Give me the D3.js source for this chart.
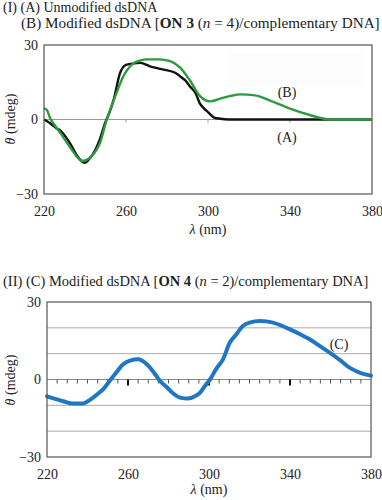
<!DOCTYPE html>
<html>
<head>
<meta charset="utf-8">
<script src="https://cdn.jsdelivr.net/npm/d3@7"></script>
<style>
  body { margin: 0; background: #fff; }
  svg text { font-family: "Liberation Serif", "DejaVu Serif", serif !important; fill: #222; }
</style>
</head>
<body>
<div id="chart"></div>
<script>
// CD spectra (wavelength nm, theta mdeg)
var curveA = [
  [220, 0], [223, -1.5], [226, -3.5], [228, -4.5], [231, -7.5], [233, -10], [236, -14.5],
  [238, -16.5], [240, -17.4], [242, -16], [245, -12.3], [247, -8.5], [250, -1], [252, 3],
  [254, 8], [257, 18.5], [260, 22], [263, 22.5], [267, 22.8], [272, 21.3], [276, 20.5],
  [279, 20], [284, 18.8], [287, 17], [289, 15.7], [291, 13.5], [294, 10.5], [296, 6.5],
  [298, 4.5], [300, 3], [303, 0.8], [306, 0.3], [310, 0], [330, 0], [350, 0], [380, 0]
];
var curveB = [
  [220, 4.5], [221.3, 4], [223, 0.5], [225, -2], [228, -5.5], [233, -11.5], [236, -15],
  [238.5, -16.7], [240, -16.5], [242.4, -15.4], [245, -13], [247.3, -9.5], [250.6, 0],
  [254.6, 9], [258.5, 17], [263.4, 22.5], [266.8, 23.7], [270, 24.2], [276, 24.2],
  [281.5, 23.5], [286.3, 21], [291, 16], [296, 9.5], [301, 7.3], [306, 8.4], [311, 9.5],
  [316, 10.1], [323, 9.7], [330, 7.7], [340, 4.4], [350, 1.7], [355, 0.6], [360, 0], [380, 0]
];
var curveC = [
  [220, -6.5], [224, -7.5], [228, -8.4], [232.8, -9.3], [237.8, -9.3], [241, -8],
  [244.7, -5.8], [248, -3.5], [251, -0.5], [254, 2.5], [257.5, 5.8], [261, 7.3], [265, 7.8],
  [269.4, 5.8], [272.5, 3], [275.8, -0.6], [279.3, -3.1], [282.5, -5.5], [285.7, -7],
  [289.6, -7.4], [293, -6.5], [295.6, -5.1], [298, -2.5], [300.5, 0], [303.5, 4], [306.9, 7.8],
  [310.3, 14.3], [313.5, 17.5], [316.7, 20.7], [320, 22], [325.2, 22.6], [331.6, 22],
  [336, 20.8], [340, 19.4], [345, 17.5], [349.9, 15.5], [355, 12.8], [359.8, 10.3],
  [365, 7.3], [369.6, 4.5], [375, 2.5], [380, 1.5]
];
var xTicks = [220, 260, 300, 340, 380];
var yTicks = [-30, 0, 30];
var gridII = [20, 10, -10, -20];

var svg = d3.select('#chart').append('svg')
  .attr('width', 382)
  .attr('height', 500);

// panel I scales
var x1 = d3.scaleLinear().domain([220, 380]).range([44, 372]);
var y1 = d3.scaleLinear().domain([-30, 30]).range([194, 45]);
// panel II scales
var x2 = d3.scaleLinear().domain([220, 380]).range([47, 371]);
var y2 = d3.scaleLinear().domain([-30, 30]).range([457, 302]);

function frame(x, y) {
  svg.append('rect')
    .attr('x', x(220)).attr('y', y(30))
    .attr('width', x(380) - x(220)).attr('height', y(-30) - y(30))
    .attr('fill', 'none').attr('stroke', '#555').attr('stroke-width', 1.2);
}

function axes(x, y, labelY, xLabY) {
  var bottom = svg.append('g')
    .attr('transform', `translate(0, ${y(-30)})`)
    .call(d3.axisBottom(x).tickValues(xTicks).tickSize(0).tickPadding(12));
  bottom.select('.domain').remove();
  bottom.attr('font-family', null).attr('font-size', null);
  bottom.selectAll('text').style('font-size', '14px').attr('fill', '#222');

  var left = svg.append('g')
    .attr('transform', `translate(${x(220)}, 0)`)
    .call(d3.axisLeft(y).tickValues(yTicks).tickSize(0).tickPadding(6)
      .tickFormat(d => d < 0 ? '\u2212' + Math.abs(d) : d));
  left.select('.domain').remove();
  left.attr('font-family', null).attr('font-size', null);
  left.selectAll('text').style('font-size', '14px').attr('fill', '#222');

  var yl = svg.append('text')
    .attr('transform', `translate(15, ${labelY}) rotate(-90)`)
    .attr('text-anchor', 'middle')
    .style('font-size', '14px');
  yl.append('tspan').attr('font-style', 'italic').text('\u03b8');
  yl.append('tspan').text(' (mdeg)');

  var xl = svg.append('text')
    .attr('x', (x(220) + x(380)) / 2)
    .attr('y', xLabY)
    .attr('text-anchor', 'middle')
    .style('font-size', '14px');
  xl.append('tspan').attr('font-style', 'italic').text('\u03bb');
  xl.append('tspan').text(' (nm)');
}

function title(x, y, parts, size) {
  var t = svg.append('text').attr('x', x).attr('y', y).style('font-size', size);
  parts.forEach(function(p) {
    var s = t.append('tspan').text(p[0]);
    if (p[1] === 'b') s.attr('font-weight', 'bold');
    if (p[1] === 'i') s.attr('font-style', 'italic');
  });
}

// ---- Panel I ----
title(3, 12, [['(I) (A) Unmodified dsDNA']], '14px');
title(21, 28, [['(B) Modified dsDNA ['], ['ON 3', 'b'], [' ('], ['n', 'i'], [' = 4)/complementary DNA]']], '15.2px');

svg.append('rect')
  .attr('x', 230).attr('y', 53).attr('width', 132).attr('height', 32)
  .attr('fill', '#fcfcfc');

svg.append('line')
  .attr('x1', x1(220)).attr('x2', x1(380))
  .attr('y1', y1(0)).attr('y2', y1(0))
  .attr('stroke', '#999').attr('stroke-width', 1);
svg.selectAll('.tickI').data([260, 300, 340]).enter().append('line')
  .attr('x1', d => x1(d)).attr('x2', d => x1(d))
  .attr('y1', y1(0)).attr('y2', y1(0) + 3)
  .attr('stroke', '#999').attr('stroke-width', 1);

var line1 = d3.line().x(d => x1(d[0])).y(d => y1(d[1])).curve(d3.curveMonotoneX);
svg.append('path').datum(curveA).attr('d', line1)
  .attr('fill', 'none').attr('stroke', '#111').attr('stroke-width', 2.4);
svg.append('path').datum(curveB).attr('d', line1)
  .attr('fill', 'none').attr('stroke', '#2c9a3e').attr('stroke-width', 2.4);

frame(x1, y1);
axes(x1, y1, 119, 234);

svg.append('text').attr('x', 287).attr('y', 97).attr('text-anchor', 'middle')
  .style('font-size', '14px').text('(B)');
svg.append('text').attr('x', 287).attr('y', 142).attr('text-anchor', 'middle')
  .style('font-size', '14px').text('(A)');

// ---- Panel II ----
title(3, 286, [['(II) (C) Modified dsDNA ['], ['ON 4', 'b'], [' ('], ['n', 'i'], [' = 2)/complementary DNA]']], '14.5px');

svg.selectAll('.gridII').data(gridII).enter().append('line')
  .attr('x1', x2(220)).attr('x2', x2(380))
  .attr('y1', d => y2(d)).attr('y2', d => y2(d))
  .attr('stroke', '#aaa').attr('stroke-width', 1);
svg.append('line')
  .attr('x1', x2(220)).attr('x2', x2(380))
  .attr('y1', y2(0)).attr('y2', y2(0))
  .attr('stroke', '#888').attr('stroke-width', 1);
svg.selectAll('.minorII').data(d3.range(225, 380, 5)).enter().append('line')
  .attr('x1', d => x2(d)).attr('x2', d => x2(d))
  .attr('y1', y2(0)).attr('y2', y2(0) + 4)
  .attr('stroke', '#555').attr('stroke-width', 1);
svg.selectAll('.majorII').data([260, 300, 340]).enter().append('line')
  .attr('x1', d => x2(d)).attr('x2', d => x2(d))
  .attr('y1', y2(0)).attr('y2', y2(0) + 6)
  .attr('stroke', '#111').attr('stroke-width', 2);

var line2 = d3.line().x(d => x2(d[0])).y(d => y2(d[1])).curve(d3.curveMonotoneX);
svg.append('path').datum(curveC).attr('d', line2)
  .attr('fill', 'none').attr('stroke', '#1f77c3').attr('stroke-width', 4)
  .attr('stroke-linecap', 'round');

frame(x2, y2);
axes(x2, y2, 380, 494);

svg.append('text').attr('x', 339).attr('y', 349).attr('text-anchor', 'middle')
  .style('font-size', '14px').text('(C)');
</script>
</body>
</html>
